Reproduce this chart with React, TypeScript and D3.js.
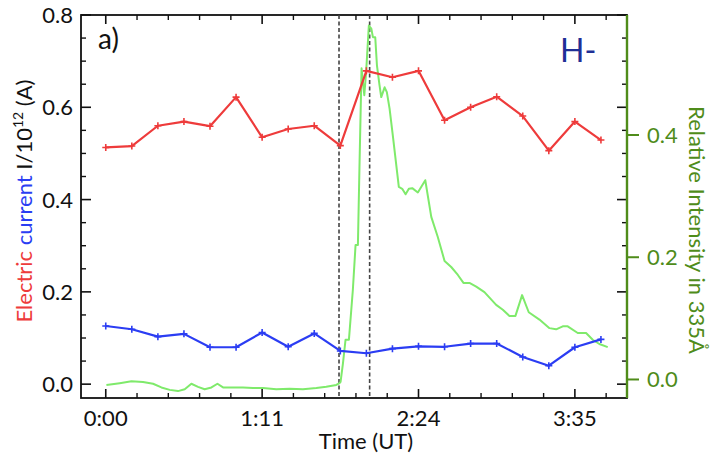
import React from "react";
import * as d3 from "d3";

// Time in hours (UT) for the current samples (12-minute cadence)
const currentTimes = [0, 0.2, 0.4, 0.6, 0.8, 1.0, 1.2, 1.4, 1.6, 1.8, 2.0, 2.2, 2.4, 2.6, 2.8, 3.0, 3.2, 3.4, 3.6, 3.8];
const redCurrent = [0.513, 0.516, 0.560, 0.569, 0.559, 0.622, 0.535, 0.553, 0.560, 0.517, 0.679, 0.665, 0.679, 0.572, 0.600, 0.623, 0.581, 0.506, 0.569, 0.529];
const blueCurrent = [0.126, 0.119, 0.103, 0.109, 0.080, 0.080, 0.112, 0.081, 0.110, 0.072, 0.067, 0.077, 0.082, 0.081, 0.088, 0.088, 0.059, 0.040, 0.080, 0.097];

// Relative intensity in 335 Å
const greenTimes = [0.005, 0.107, 0.197, 0.286, 0.363, 0.427, 0.491, 0.554, 0.606, 0.657, 0.708, 0.759, 0.811, 0.857, 0.900, 0.976, 1.053, 1.130, 1.206, 1.309, 1.411, 1.513, 1.616, 1.692, 1.769, 1.794, 1.802, 1.820, 1.840, 1.866, 1.896, 1.917, 1.935, 1.948, 1.963, 1.984, 1.998, 2.019, 2.038, 2.050, 2.068, 2.081, 2.101, 2.114, 2.140, 2.157, 2.178, 2.203, 2.249, 2.275, 2.301, 2.326, 2.352, 2.395, 2.452, 2.498, 2.548, 2.600, 2.651, 2.702, 2.745, 2.791, 2.843, 2.906, 2.996, 3.047, 3.098, 3.144, 3.195, 3.246, 3.328, 3.405, 3.456, 3.507, 3.545, 3.622, 3.686, 3.737, 3.788, 3.852];
const greenIntensity = [-0.009, -0.006, -0.003, -0.004, -0.007, -0.013, -0.017, -0.019, -0.016, -0.007, -0.012, -0.016, -0.013, -0.007, -0.013, -0.013, -0.013, -0.014, -0.014, -0.016, -0.015, -0.016, -0.014, -0.012, -0.009, -0.006, -0.004, 0.026, 0.065, 0.065, 0.146, 0.220, 0.220, 0.359, 0.509, 0.465, 0.503, 0.579, 0.574, 0.560, 0.560, 0.514, 0.481, 0.462, 0.478, 0.470, 0.443, 0.399, 0.315, 0.312, 0.303, 0.312, 0.313, 0.306, 0.326, 0.266, 0.233, 0.194, 0.184, 0.171, 0.158, 0.158, 0.152, 0.143, 0.122, 0.114, 0.104, 0.104, 0.138, 0.110, 0.098, 0.084, 0.082, 0.087, 0.087, 0.076, 0.076, 0.065, 0.058, 0.053];

const eventTimes = [1.79, 2.025];

const xTickValues = [0, 1.2, 2.4, 3.6];
const xTickLabels = ["0:00", "1:11", "2:24", "3:35"];
const leftTicks = [0, 0.2, 0.4, 0.6, 0.8];
const rightTicks = [0, 0.2, 0.4];

const W = 716;
const H = 460;
const L = 81, R = 627, T = 15, B = 398;
const FONT = "Lato, 'Open Sans', sans-serif";
const RED = "#ee3b3b";
const BLUE = "#2b3df3";
const GREEN = "#7fea6b";
const AXGREEN = "#4f8c1a";

export default function App() {
  const x = d3.scaleLinear().domain([-0.19, 4.0]).range([L, R]);
  const yL = d3.scaleLinear().domain([-0.03, 0.8]).range([B, T]);
  const yR = d3.scaleLinear().domain([-0.0303, 0.5963]).range([B, T]);

  const lineL = d3.line<number>().x((_, i) => x(currentTimes[i])).y((d) => yL(d));
  const lineG = d3.line<number>().x((_, i) => x(greenTimes[i])).y((d) => yR(d));

  const xMinor = d3.range(-0.0, 4.0, 0.24).filter((v) => !xTickValues.some((t) => Math.abs(t - v) < 1e-6));
  const yMinor = d3.range(0, 0.8, 0.05).filter((v) => !leftTicks.some((t) => Math.abs(t - v) < 1e-6));

  const plus = (cx: number, cy: number, color: string, k: string) => (
    <path key={k} d={`M${cx - 3.5},${cy}H${cx + 3.5}M${cx},${cy - 3.5}V${cy + 3.5}`} stroke={color} strokeWidth={1.6} />
  );

  return (
    <div style={{ position: "absolute", left: 0, top: 0 }}>
      <svg width={W} height={H} style={{ display: "block", background: "#fff" }} fontFamily={FONT}>
        {/* frame */}
        <rect x={L} y={T} width={R - L} height={B - T} fill="none" stroke="#111" strokeWidth={1.8} />

        {/* x ticks bottom & top */}
        {xTickValues.map((v, i) => (
          <g key={"xt" + i}>
            <line x1={x(v)} x2={x(v)} y1={B} y2={B - 9} stroke="#111" strokeWidth={1.6} />
            <line x1={x(v)} x2={x(v)} y1={T} y2={T + 9} stroke="#111" strokeWidth={1.6} />
            <text x={x(v)} y={426} textAnchor="middle" fontSize={22} fill="#111">{xTickLabels[i]}</text>
          </g>
        ))}
        {xMinor.map((v, i) => (
          <g key={"xm" + i}>
            <line x1={x(v)} x2={x(v)} y1={B} y2={B - 5} stroke="#111" strokeWidth={1.4} />
            <line x1={x(v)} x2={x(v)} y1={T} y2={T + 5} stroke="#111" strokeWidth={1.4} />
          </g>
        ))}
        <text x={366} y={449} textAnchor="middle" fontSize={22} fill="#111">Time (UT)</text>

        {/* left ticks */}
        {leftTicks.map((v, i) => (
          <g key={"yl" + i}>
            <line x1={L} x2={L + 10} y1={yL(v)} y2={yL(v)} stroke="#111" strokeWidth={1.6} />
            <line x1={R} x2={R - 10} y1={yL(v)} y2={yL(v)} stroke="#111" strokeWidth={1.6} />
            <text x={73} y={yL(v) + 8} textAnchor="end" fontSize={22} fill="#111">{d3.format(".1f")(v)}</text>
          </g>
        ))}
        {yMinor.map((v, i) => (
          <g key={"ylm" + i}>
            <line x1={L} x2={L + 5} y1={yL(v)} y2={yL(v)} stroke="#111" strokeWidth={1.4} />
            <line x1={R} x2={R - 5} y1={yL(v)} y2={yL(v)} stroke="#111" strokeWidth={1.4} />
          </g>
        ))}
        <text transform={`translate(32,201) rotate(-90)`} textAnchor="middle" fontSize={22} fill="#111">
          <tspan fill={RED}>Electric </tspan>
          <tspan fill={BLUE}>current </tspan>
          <tspan>I/10</tspan>
          <tspan fontSize={14} dy={-9}>12</tspan>
          <tspan dy={9}> (A)</tspan>
        </text>

        {/* right axis */}
        <line x1={R} x2={R} y1={T} y2={B} stroke={AXGREEN} strokeWidth={2.4} />
        {rightTicks.map((v, i) => (
          <g key={"yr" + i}>
            <line x1={R} x2={R + 12} y1={yR(v)} y2={yR(v)} stroke={AXGREEN} strokeWidth={2} />
            <text x={647} y={yR(v) + 8} textAnchor="start" fontSize={22} fill={AXGREEN}>{d3.format(".1f")(v)}</text>
          </g>
        ))}
        <text transform={`translate(689,230) rotate(90)`} textAnchor="middle" fontSize={22} fill={AXGREEN}>
          Relative Intensity in 335Å
        </text>

        {/* event lines */}
        {eventTimes.map((t, i) => (
          <line key={"ev" + i} x1={x(t)} x2={x(t)} y1={T} y2={B} stroke="#444" strokeWidth={1.6} strokeDasharray="4,2.5" />
        ))}

        {/* green intensity */}
        <path d={lineG(greenIntensity) || ""} fill="none" stroke={GREEN} strokeWidth={2} strokeLinejoin="round" />

        {/* currents */}
        <path d={lineL(redCurrent) || ""} fill="none" stroke={RED} strokeWidth={2.2} strokeLinejoin="round" />
        {redCurrent.map((v, i) => plus(x(currentTimes[i]), yL(v), RED, "r" + i))}
        <path d={lineL(blueCurrent) || ""} fill="none" stroke={BLUE} strokeWidth={2.2} strokeLinejoin="round" />
        {blueCurrent.map((v, i) => plus(x(currentTimes[i]), yL(v), BLUE, "b" + i))}

        {/* annotations */}
        <text x={98} y={49} fontSize={28} fill="#111">a)</text>
        <text x={560} y={62} fontSize={32} fill="#1f2f96">H-</text>
      </svg>
    </div>
  );
}
